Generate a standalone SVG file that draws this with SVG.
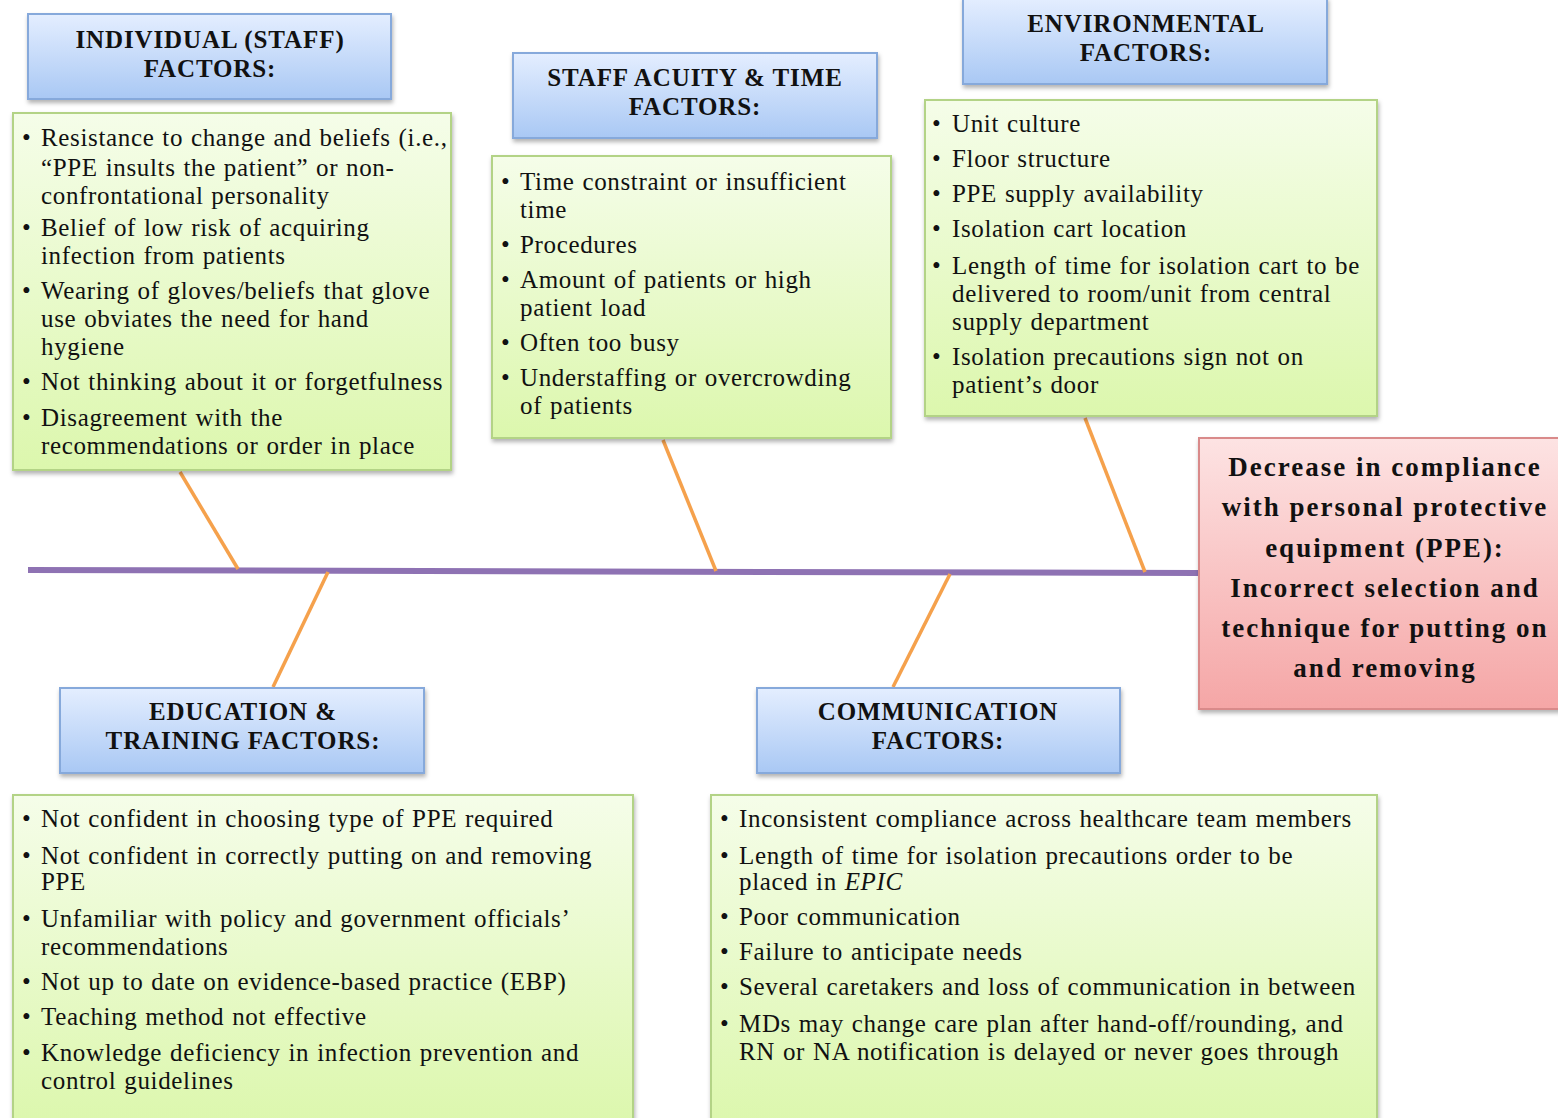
<svg xmlns="http://www.w3.org/2000/svg" width="1558" height="1118" viewBox="0 0 1558 1118">
<defs>
<linearGradient id="gBlue" x1="0" y1="0" x2="0" y2="1"><stop offset="0" stop-color="#e4eeff"/><stop offset="1" stop-color="#a9c8f4"/></linearGradient>
<linearGradient id="gGreen" x1="0" y1="0" x2="0" y2="1"><stop offset="0" stop-color="#f5fde9"/><stop offset="1" stop-color="#dcf7ad"/></linearGradient>
<linearGradient id="gRed" x1="0" y1="0" x2="0" y2="1"><stop offset="0" stop-color="#fde3e3"/><stop offset="1" stop-color="#f5a6a6"/></linearGradient>
<filter id="sh" x="-5%" y="-5%" width="110%" height="115%"><feDropShadow dx="1" dy="3" stdDeviation="2" flood-color="#000" flood-opacity="0.3"/></filter>
<style>
.hdr{fill:url(#gBlue);stroke:#86a9db;stroke-width:2;filter:url(#sh)}
.lst{fill:url(#gGreen);stroke:#b3d386;stroke-width:2;filter:url(#sh)}
.eff{fill:url(#gRed);stroke:#d98a8a;stroke-width:2;filter:url(#sh)}
.ht{font-family:"Liberation Serif",serif;font-weight:bold;font-size:25px;fill:#111;text-anchor:middle;letter-spacing:0.9px}
.bt{font-family:"Liberation Serif",serif;font-size:25px;fill:#111;letter-spacing:0.65px;word-spacing:1px}
.et{font-family:"Liberation Serif",serif;font-weight:bold;font-size:27px;fill:#111;text-anchor:middle;letter-spacing:2px}
.br{stroke:#f5a14c;stroke-width:3.5;fill:none}
.sp{stroke:#8e72b3;stroke-width:6;fill:none}
</style>
</defs>
<rect width="1558" height="1118" fill="#fff"/>
<g id="connectors">
<line class="sp" x1="28" y1="570" x2="1200" y2="573"/>
<line class="br" x1="180" y1="472" x2="238" y2="569"/>
<line class="br" x1="663" y1="440" x2="716" y2="571"/>
<line class="br" x1="1085" y1="418" x2="1145" y2="572"/>
<line class="br" x1="328" y1="572" x2="273" y2="687"/>
<line class="br" x1="950" y1="574" x2="893" y2="687"/>
</g>
<g id="individual-header">
<rect class="hdr" x="28" y="14" width="363" height="85"/>
<text class="ht" x="210" y="48">INDIVIDUAL (STAFF)</text>
<text class="ht" x="210" y="77">FACTORS:</text>
</g>
<g id="individual-list">
<rect class="lst" x="13" y="113" width="438" height="357"/>
<text class="bt"><tspan x="22" y="146">•</tspan><tspan x="41" y="146">Resistance to change and beliefs (i.e.,</tspan><tspan x="41" y="176">“PPE insults the patient” or non-</tspan><tspan x="41" y="204">confrontational personality</tspan><tspan x="22" y="236">•</tspan><tspan x="41" y="236">Belief of low risk of acquiring</tspan><tspan x="41" y="264">infection from patients</tspan><tspan x="22" y="299">•</tspan><tspan x="41" y="299">Wearing of gloves/beliefs that glove</tspan><tspan x="41" y="327">use obviates the need for hand</tspan><tspan x="41" y="355">hygiene</tspan><tspan x="22" y="390">•</tspan><tspan x="41" y="390">Not thinking about it or forgetfulness</tspan><tspan x="22" y="426">•</tspan><tspan x="41" y="426">Disagreement with the</tspan><tspan x="41" y="454">recommendations or order in place</tspan></text>
</g>
<g id="staff-header">
<rect class="hdr" x="513" y="53" width="364" height="85"/>
<text class="ht" x="695" y="86">STAFF ACUITY &amp; TIME</text>
<text class="ht" x="695" y="115">FACTORS:</text>
</g>
<g id="staff-list">
<rect class="lst" x="492" y="156" width="399" height="282"/>
<text class="bt"><tspan x="501" y="190">•</tspan><tspan x="520" y="190">Time constraint or insufficient</tspan><tspan x="520" y="218">time</tspan><tspan x="501" y="253">•</tspan><tspan x="520" y="253">Procedures</tspan><tspan x="501" y="288">•</tspan><tspan x="520" y="288">Amount of patients or high</tspan><tspan x="520" y="316">patient load</tspan><tspan x="501" y="351">•</tspan><tspan x="520" y="351">Often too busy</tspan><tspan x="501" y="386">•</tspan><tspan x="520" y="386">Understaffing or overcrowding</tspan><tspan x="520" y="414">of patients</tspan></text>
</g>
<g id="environmental-header">
<rect class="hdr" x="963" y="-2" width="364" height="86"/>
<text class="ht" x="1146" y="32">ENVIRONMENTAL</text>
<text class="ht" x="1146" y="61">FACTORS:</text>
</g>
<g id="environmental-list">
<rect class="lst" x="925" y="100" width="452" height="316"/>
<text class="bt"><tspan x="932" y="132">•</tspan><tspan x="952" y="132">Unit culture</tspan><tspan x="932" y="167">•</tspan><tspan x="952" y="167">Floor structure</tspan><tspan x="932" y="202">•</tspan><tspan x="952" y="202">PPE supply availability</tspan><tspan x="932" y="237">•</tspan><tspan x="952" y="237">Isolation cart location</tspan><tspan x="932" y="274">•</tspan><tspan x="952" y="274">Length of time for isolation cart to be</tspan><tspan x="952" y="302">delivered to room/unit from central</tspan><tspan x="952" y="330">supply department</tspan><tspan x="932" y="365">•</tspan><tspan x="952" y="365">Isolation precautions sign not on</tspan><tspan x="952" y="393">patient’s door</tspan></text>
</g>
<g id="effect">
<rect class="eff" x="1199" y="438" width="365" height="271"/>
<text class="et"><tspan x="1385" y="476">Decrease in compliance</tspan><tspan x="1385" y="516">with personal protective</tspan><tspan x="1385" y="557">equipment (PPE):</tspan><tspan x="1385" y="597">Incorrect selection and</tspan><tspan x="1385" y="637">technique for putting on</tspan><tspan x="1385" y="677">and removing</tspan></text>
</g>
<g id="education-header">
<rect class="hdr" x="60" y="688" width="364" height="85"/>
<text class="ht" x="243" y="720">EDUCATION &amp;</text>
<text class="ht" x="243" y="749">TRAINING FACTORS:</text>
</g>
<g id="education-list">
<rect class="lst" x="13" y="795" width="620" height="330"/>
<text class="bt"><tspan x="22" y="827">•</tspan><tspan x="41" y="827">Not confident in choosing type of PPE required</tspan><tspan x="22" y="864">•</tspan><tspan x="41" y="864">Not confident in correctly putting on and removing</tspan><tspan x="41" y="890">PPE</tspan><tspan x="22" y="927">•</tspan><tspan x="41" y="927">Unfamiliar with policy and government officials’</tspan><tspan x="41" y="955">recommendations</tspan><tspan x="22" y="990">•</tspan><tspan x="41" y="990">Not up to date on evidence-based practice (EBP)</tspan><tspan x="22" y="1025">•</tspan><tspan x="41" y="1025">Teaching method not effective</tspan><tspan x="22" y="1061">•</tspan><tspan x="41" y="1061">Knowledge deficiency in infection prevention and</tspan><tspan x="41" y="1089">control guidelines</tspan></text>
</g>
<g id="communication-header">
<rect class="hdr" x="757" y="688" width="363" height="85"/>
<text class="ht" x="938" y="720">COMMUNICATION</text>
<text class="ht" x="938" y="749">FACTORS:</text>
</g>
<g id="communication-list">
<rect class="lst" x="711" y="795" width="666" height="330"/>
<text class="bt"><tspan x="720" y="827">•</tspan><tspan x="739" y="827">Inconsistent compliance across healthcare team members</tspan><tspan x="720" y="864">•</tspan><tspan x="739" y="864">Length of time for isolation precautions order to be</tspan><tspan x="739" y="890">placed in <tspan font-style="italic">EPIC</tspan></tspan><tspan x="720" y="925">•</tspan><tspan x="739" y="925">Poor communication</tspan><tspan x="720" y="960">•</tspan><tspan x="739" y="960">Failure to anticipate needs</tspan><tspan x="720" y="995">•</tspan><tspan x="739" y="995">Several caretakers and loss of communication in between</tspan><tspan x="720" y="1032">•</tspan><tspan x="739" y="1032">MDs may change care plan after hand-off/rounding, and</tspan><tspan x="739" y="1060">RN or NA notification is delayed or never goes through</tspan></text>
</g>
</svg>
